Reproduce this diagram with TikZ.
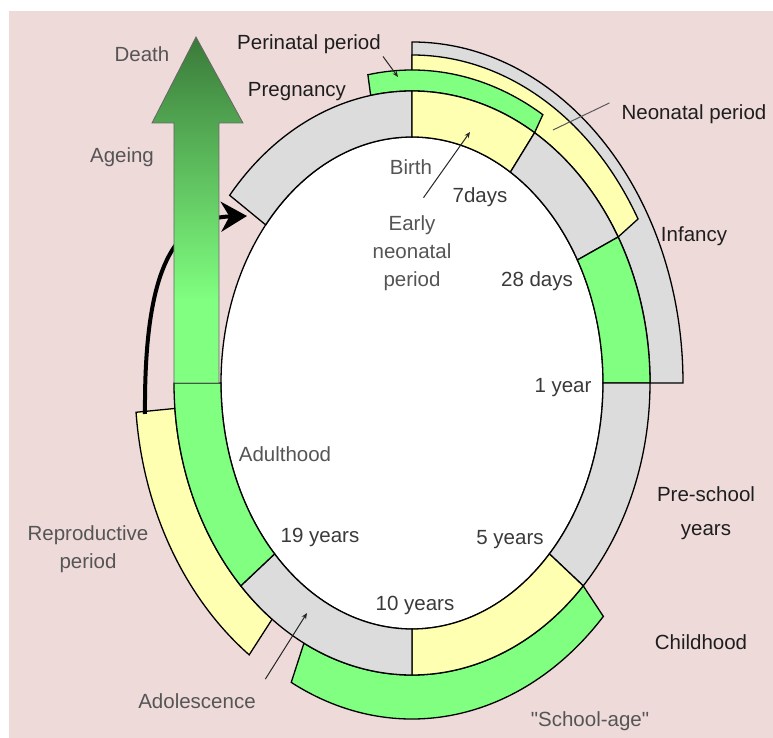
\documentclass[tikz,border=0pt]{standalone}
\usepackage{fontspec}
\setmainfont{Liberation Sans}
\newfontfamily\straightquotes{Liberation Sans}
\usepackage{xcolor}
\usepackage{tikz}
\usetikzlibrary{arrows.meta,positioning,calc}

\definecolor{bgpink}{HTML}{EFDADA}
\definecolor{ringgray}{HTML}{DCDCDC}
\definecolor{ringyellow}{HTML}{FFFFB2}
\definecolor{ringgreen}{HTML}{80FF80}
\definecolor{arrowdark}{HTML}{3A7A3A}
\definecolor{darktext}{HTML}{1E1E1E}
\definecolor{midtext}{HTML}{3A3A3A}
\definecolor{softtext}{HTML}{555555}
\pgfdeclareverticalshading{ageing}{100bp}{color(0bp)=(ringgreen); color(37bp)=(ringgreen); color(75bp)=(arrowdark); color(100bp)=(arrowdark)}

\begin{document}
\begin{tikzpicture}[x=1pt,y=1pt,
  band/.style={draw=black,line width=1.3pt,line join=miter},
  lbl/.style={font=\fontsize{20.5pt}{28pt}\selectfont,inner sep=2pt,anchor=base,align=center},
  pointer/.style={-{Stealth[length=6pt,width=5pt]},line width=1pt,draw=black!85}]
  \useasboundingbox (-412,-355) rectangle (361,383);
  \fill[white] (-412,-355) rectangle (361,383);
  \fill[bgpink] (-403,-355) rectangle (361,372);
  % outer bands
  \foreach \a/\b/\rx/\ry/\c in {0/90/271/341/ringgray, 30/90/261/328/ringyellow, 59/100/254/313/ringgreen,
      243/316/266/336/ringgreen, 185/234/277/336/ringyellow}
    \filldraw[band,fill=\c] (\a:238pt and 292pt) arc[start angle=\a, end angle=\b, x radius=238pt, y radius=292pt]
      -- (\b:\rx pt and \ry pt) arc[start angle=\b, end angle=\a, x radius=\rx pt, y radius=\ry pt] -- cycle;
  % inner ellipse and main ring
  \filldraw[fill=white,draw=black,line width=1.3pt] (0,0) ellipse [x radius=191pt, y radius=246pt];
  \foreach \a/\b/\c in {90/140/ringgray, 59/90/ringyellow, 30/59/ringgray, 0/30/ringgreen,
      -44/0/ringgray, -90/-44/ringyellow, -136/-90/ringgray, -180/-136/ringgreen}
    \filldraw[band,fill=\c] (\a:191pt and 246pt) arc[start angle=\a, end angle=\b, x radius=191pt, y radius=246pt]
      -- (\b:238pt and 292pt) arc[start angle=\b, end angle=\a, x radius=238pt, y radius=292pt] -- cycle;
  % cycle back from reproduction to pregnancy
  \coordinate (reprotop) at (-267,-31);
  \coordinate (pregend) at (-165,167);
  \draw[line width=4pt,-{Stealth[length=26pt,width=30pt]}] (reprotop) .. controls (-268,110) and (-240,165) .. (pregend);
  \shadedraw[shading=ageing,draw=black!60,line width=0.8pt] (-238,0) -- (-238,260) -- (-260,260) -- (-216,346)
    -- (-169,260) -- (-193,260) -- (-193,0) -- cycle;
  % labels
  \node[lbl,text=softtext] (death) at (-270,321) {Death};
  \node[lbl,text=softtext] (ageing) at (-290,220) {Ageing};
  \node[lbl,text=darktext] (perinatal) at (-103,333) {Perinatal period};
  \node[lbl,text=darktext] (pregnancy) at (-115,286) {Pregnancy};
  \node[lbl,text=darktext] (neonatal) at (282,263) {Neonatal period};
  \node[lbl,text=darktext] (infancy) at (282,141) {Infancy};
  \node[lbl,text=softtext] (birth) at (-1,208) {Birth};
  \node[lbl,text=midtext] (sevendays) at (68,180) {7days};
  \node[lbl,text=softtext] (early) at (0,96) {Early\\neonatal\\period};
  \node[lbl,text=midtext] (twentyeight) at (125,96) {28 days};
  \node[lbl,text=midtext] (oneyear) at (151,-10) {1 year};
  \node[lbl,text=darktext] (preschool) at (294,-152) {Pre-school\\[5pt]years};
  \node[lbl,text=softtext] (adulthood) at (-127,-79) {Adulthood};
  \node[lbl,text=midtext] (nineteen) at (-92,-159) {19 years};
  \node[lbl,text=midtext] (ten) at (3,-227) {10 years};
  \node[lbl,text=midtext] (five) at (98,-161) {5 years};
  \node[lbl,text=darktext] (childhood) at (289,-266) {Childhood};
  \node[lbl,text=softtext] (schoolage) at (178,-343) {\straightquotes "School-age"};
  \node[lbl,text=softtext] (repro) at (-324,-185) {Reproductive\\period};
  \node[lbl,text=softtext] (adol) at (-215,-325) {Adolescence};
  % pointers
  \coordinate (peript) at (-14,306);
  \coordinate (neopt) at (141,253);
  \coordinate (earlypt) at (58,251);
  \coordinate (adolpt) at (-105,-230);
  \draw[pointer] (perinatal.south east) -- (peript);
  \draw[line width=1pt,draw=black!65] ([xshift=-10pt]neonatal.north west) -- (neopt);
  \draw[pointer,shorten <=20pt] (early.north) -- (earlypt);
  \draw[pointer,shorten <=14pt] (adol.north east) -- (adolpt);
\end{tikzpicture}
\end{document}
